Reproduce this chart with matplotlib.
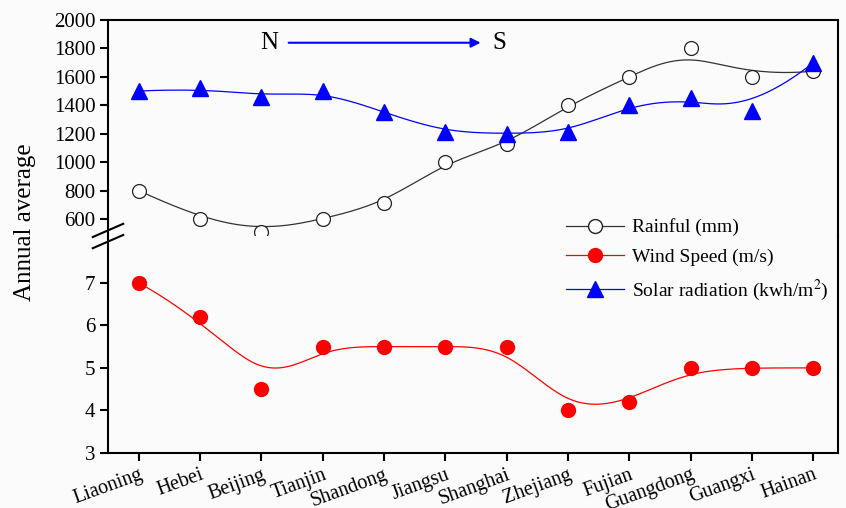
import matplotlib
matplotlib.use('Agg')
import matplotlib.pyplot as plt
import numpy as np

# ================== data ==================
provinces = ['Liaoning', 'Hebei', 'Beijing', 'Tianjin', 'Shandong', 'Jiangsu',
             'Shanghai', 'Zhejiang', 'Fujian', 'Guangdong', 'Guangxi', 'Hainan']
rainfall = [800, 600, 510, 600, 710, 1000, 1125, 1400, 1600, 1800, 1600, 1640]
solar    = [1500, 1520, 1460, 1500, 1350, 1210, 1200, 1210, 1400, 1450, 1360, 1700]
wind     = [7.0, 6.2, 4.5, 5.5, 5.5, 5.5, 5.5, 4.0, 4.2, 5.0, 5.0, 5.0]

top_ticks = [600, 800, 1000, 1200, 1400, 1600, 1800, 2000]
bot_ticks = [3, 4, 5, 6, 7]

plt.rcParams['font.family'] = ['Liberation Serif', 'DejaVu Serif']
plt.rcParams['mathtext.fontset'] = 'stix'


def bspline(xs, ys, k=3, n=400):
    # clamped cubic B-spline with the data points as control points (Origin style)
    P = np.column_stack([xs, ys]).astype(float)
    m = len(P)
    knots = np.concatenate([np.zeros(k), np.arange(m - k + 1), np.full(k, m - k)]).astype(float)
    t = np.linspace(0, m - k, n)
    N = np.zeros((len(knots) - 1, n))
    for i in range(len(knots) - 1):
        N[i] = (knots[i] <= t) & (t < knots[i + 1])
    N[m - 1, -1] = 1.0
    for d in range(1, k + 1):
        Nn = np.zeros((len(knots) - 1 - d, n))
        for i in range(len(knots) - 1 - d):
            a = knots[i + d] - knots[i]
            b = knots[i + d + 1] - knots[i + 1]
            if a > 0:
                Nn[i] += (t - knots[i]) / a * N[i]
            if b > 0:
                Nn[i] += (knots[i + d + 1] - t) / b * N[i + 1]
        N = Nn
    c = N.T @ P
    return c[:, 0], c[:, 1]


x = np.arange(len(provinces))
bg = '#fbfbfb'

fig = plt.figure(figsize=(8.46, 5.08), dpi=100, facecolor=bg)
L, R = 108 / 846, 838 / 846
T, M, B = 1 - 20 / 508, 1 - 236 / 508, 1 - 453 / 508
ax_top = fig.add_axes([L, M, R - L, T - M], facecolor=bg)
ax_bot = fig.add_axes([L, B, R - L, M - B], facecolor=bg, sharex=ax_top)

# top part: rainfall + solar
cx, cy = bspline(x, rainfall)
ax_top.plot(cx, cy, color='#333333', lw=0.9)
ax_top.plot(x, rainfall, 'o', ms=10, mfc='white', mec='#222222', mew=0.9)
cx, cy = bspline(x, solar)
ax_top.plot(cx, cy, color='blue', lw=0.9)
ax_top.plot(x, solar, '^', ms=11, color='blue')

# bottom part: wind speed
cx, cy = bspline(x, wind)
ax_bot.plot(cx, cy, color='red', lw=0.9)
ax_bot.plot(x, wind, 'o', ms=10, color='red')

ax_top.set_ylim(480, 2000)
ax_bot.set_ylim(3, 8.1)
ax_top.set_xlim(-0.5, 11.4)
ax_top.set_yticks(top_ticks)
ax_bot.set_yticks(bot_ticks)
ax_bot.set_xticks(x)
ax_bot.set_xticklabels(provinces, rotation=20, ha='right', rotation_mode='anchor')

for ax in (ax_top, ax_bot):
    for s in ax.spines.values():
        s.set_linewidth(1.5)
    ax.tick_params(axis='both', direction='out', length=6, width=1.5, labelsize=15, pad=3)
ax_bot.tick_params(axis='x', labelsize=14.5)
ax_top.spines['bottom'].set_visible(False)
ax_bot.spines['top'].set_visible(False)
ax_top.tick_params(axis='x', bottom=False, labelbottom=False)

# axis break marks on the left spine
for dy in (-0.011, 0.011):
    fig.lines.append(plt.Line2D([L - 0.018, L + 0.018], [M + dy - 0.013, M + dy + 0.013],
                                transform=fig.transFigure, color='black', lw=1.5))

# N -> S arrow
ax_top.annotate('', xy=(5.62, 1840), xytext=(2.4, 1840),
                arrowprops=dict(arrowstyle='-|>', color='blue', lw=1.5, mutation_scale=14))
ax_top.text(2.12, 1840, 'N', fontsize=18, ha='center', va='center')
ax_top.text(5.88, 1840, 'S', fontsize=18, ha='center', va='center')

fig.text(0.03, 1 - 222 / 508, 'Annual average', rotation=90, fontsize=18,
         ha='center', va='center')

# legend
h1 = plt.Line2D([], [], color='#333333', lw=0.9, marker='o', ms=10, mfc='white', mec='#222222')
h2 = plt.Line2D([], [], color='red', lw=0.9, marker='o', ms=10)
h3 = plt.Line2D([], [], color='blue', lw=0.9, marker='^', ms=11)
fig.legend([h1, h2, h3], ['Rainful (mm)', 'Wind Speed (m/s)', 'Solar radiation (kwh/m$^2$)'],
           loc='upper left', bbox_to_anchor=(548 / 846, 1 - 201 / 508), frameon=False,
           fontsize=14, handlelength=3.0, labelspacing=0.6, handletextpad=0.4)

fig.savefig('out.png', dpi=100, facecolor=bg)
